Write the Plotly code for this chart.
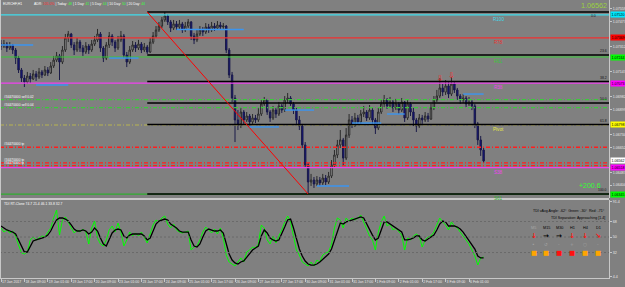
import plotly.graph_objects as go

# ---------------- data ----------------
tick_labels = ["17 Jan 2017", "18 Jan 09:00", "19 Jan 01:00", "19 Jan 17:00", "20 Jan 09:00",
               "23 Jan 01:00", "23 Jan 17:00", "24 Jan 09:00", "25 Jan 01:00", "25 Jan 17:00",
               "26 Jan 09:00", "27 Jan 01:00", "27 Jan 17:00", "30 Jan 09:00", "31 Jan 01:00",
               "31 Jan 17:00", "1 Feb 09:00", "2 Feb 01:00", "2 Feb 17:00", "3 Feb 09:00",
               "6 Feb 01:00"]
bars_per_label = 8

first_open = 1.07329
close = [1.07316,1.07329,1.07303,1.07323,1.07290,1.07237,1.07159,1.07106,1.07080,1.07119,
 1.07100,1.07133,1.07113,1.07146,1.07126,1.07159,1.07139,1.07185,1.07224,1.07251,
 1.07211,1.07290,1.07369,1.07395,1.07323,1.07290,1.07342,1.07303,1.07277,1.07316,
 1.07290,1.07329,1.07356,1.07395,1.07303,1.07237,1.07323,1.07382,1.07342,1.07303,
 1.07356,1.07382,1.07257,1.07211,1.07290,1.07323,1.07303,1.07329,1.07290,1.07310,
 1.07277,1.07342,1.07382,1.07421,1.07447,1.07487,1.07513,1.07474,1.07434,1.07461,
 1.07441,1.07461,1.07421,1.07447,1.07474,1.07382,1.07356,1.07395,1.07421,1.07408,
 1.07441,1.07421,1.07447,1.07434,1.07454,1.07441,1.07447,1.07290,1.07126,1.06975,
 1.06831,1.06805,1.06883,1.06831,1.06857,1.06818,1.06844,1.06831,1.06870,1.06936,
 1.06962,1.06883,1.06844,1.06896,1.06870,1.06923,1.06896,1.06962,1.06975,1.06936,
 1.06896,1.06831,1.06791,1.06667,1.06536,1.06424,1.06437,1.06411,1.06437,1.06418,
 1.06450,1.06424,1.06463,1.06536,1.06601,1.06667,1.06700,1.06581,1.06732,1.06831,
 1.06798,1.06844,1.06818,1.06870,1.06883,1.06844,1.06896,1.06831,1.06778,1.06883,
 1.06936,1.06962,1.06923,1.06949,1.06910,1.06936,1.06896,1.06949,1.06844,1.06936,
 1.06883,1.06831,1.06791,1.06844,1.06831,1.06857,1.06837,1.06910,1.06962,1.06988,
 1.07041,1.07014,1.07054,1.07001,1.07067,1.07028,1.06988,1.06962,1.06975,1.06936,
 1.06949,1.06923,1.06805,1.06700,1.06634,1.06562]
high = [1.07356,1.07356,1.07342,1.07342,1.07329,1.07303,1.07251,1.07172,1.07126,1.07146,
 1.07139,1.07159,1.07152,1.07172,1.07159,1.07185,1.07178,1.07211,1.07251,1.07277,
 1.07264,1.07316,1.07395,1.07415,1.07402,1.07342,1.07369,1.07356,1.07323,1.07342,
 1.07329,1.07356,1.07382,1.07428,1.07408,1.07316,1.07342,1.07408,1.07395,1.07356,
 1.07382,1.07415,1.07395,1.07277,1.07316,1.07349,1.07342,1.07356,1.07342,1.07336,
 1.07323,1.07369,1.07408,1.07447,1.07474,1.07506,1.07539,1.07526,1.07487,1.07487,
 1.07480,1.07487,1.07474,1.07474,1.07493,1.07480,1.07402,1.07421,1.07447,1.07441,
 1.07467,1.07461,1.07474,1.07467,1.07480,1.07474,1.07467,1.07454,1.07303,1.07146,
 1.06995,1.06896,1.06910,1.06896,1.06883,1.06870,1.06870,1.06864,1.06910,1.06962,
 1.06982,1.06969,1.06896,1.06923,1.06910,1.06949,1.06936,1.06988,1.07008,1.06988,
 1.06949,1.06910,1.06857,1.06805,1.06686,1.06549,1.06477,1.06457,1.06463,1.06457,
 1.06477,1.06470,1.06490,1.06568,1.06634,1.06700,1.06765,1.06713,1.06778,1.06870,
 1.06857,1.06877,1.06864,1.06896,1.06923,1.06896,1.06929,1.06910,1.06844,1.06910,
 1.06962,1.06995,1.06975,1.06982,1.06962,1.06969,1.06949,1.06975,1.06955,1.06962,
 1.06949,1.06910,1.06844,1.06870,1.06864,1.06883,1.06877,1.06936,1.06988,1.07028,
 1.07106,1.07067,1.07093,1.07080,1.07113,1.07080,1.07041,1.07001,1.07001,1.06988,
 1.06982,1.06962,1.06936,1.06818,1.06726,1.06647]
low = [1.07290,1.07303,1.07277,1.07290,1.07264,1.07198,1.07139,1.07080,1.07047,1.07067,
 1.07073,1.07093,1.07087,1.07100,1.07106,1.07119,1.07119,1.07133,1.07172,1.07211,
 1.07093,1.07198,1.07277,1.07342,1.07303,1.07257,1.07277,1.07277,1.07251,1.07264,
 1.07264,1.07277,1.07316,1.07342,1.07277,1.07211,1.07224,1.07303,1.07316,1.07277,
 1.07290,1.07342,1.07237,1.07178,1.07198,1.07277,1.07277,1.07290,1.07270,1.07277,
 1.07264,1.07270,1.07329,1.07369,1.07408,1.07434,1.07474,1.07454,1.07408,1.07421,
 1.07421,1.07428,1.07402,1.07408,1.07434,1.07356,1.07329,1.07342,1.07382,1.07382,
 1.07395,1.07402,1.07408,1.07415,1.07421,1.07421,1.07428,1.07270,1.07106,1.06949,
 1.06686,1.06765,1.06778,1.06805,1.06818,1.06791,1.06805,1.06811,1.06818,1.06857,
 1.06923,1.06864,1.06818,1.06831,1.06844,1.06857,1.06877,1.06883,1.06942,1.06923,
 1.06870,1.06805,1.06765,1.06647,1.06516,1.06345,1.06398,1.06385,1.06398,1.06398,
 1.06404,1.06404,1.06411,1.06450,1.06516,1.06581,1.06647,1.06529,1.06568,1.06713,
 1.06778,1.06785,1.06798,1.06805,1.06850,1.06824,1.06831,1.06805,1.06739,1.06765,
 1.06870,1.06916,1.06903,1.06910,1.06883,1.06896,1.06870,1.06883,1.06818,1.06831,
 1.06857,1.06791,1.06752,1.06778,1.06805,1.06818,1.06818,1.06831,1.06896,1.06949,
 1.06975,1.06988,1.06995,1.06975,1.06988,1.07008,1.06962,1.06936,1.06942,1.06916,
 1.06923,1.06896,1.06778,1.06667,1.06595,1.06549]
opens = [first_open] + close[:-1]

tdi_green = [60.5,55.8,58.2,54.7,57.0,51.2,40.8,31.5,30.3,32.6,
 46.6,50.0,46.6,48.9,51.2,50.0,54.7,60.5,72.1,81.4,
 52.3,69.8,73.3,67.5,60.5,54.7,58.2,55.8,59.3,55.8,
 41.9,60.5,68.6,48.9,41.9,39.6,46.6,58.2,62.8,55.8,
 66.3,55.8,39.6,46.6,55.8,51.2,54.7,51.2,55.8,48.9,
 43.1,53.5,64.0,69.8,67.5,72.1,74.4,65.1,60.5,65.1,
 58.2,55.8,54.7,55.8,57.0,34.9,38.4,39.6,46.6,55.8,
 61.6,58.2,54.7,59.3,53.5,60.5,48.9,29.1,21.0,18.7,
 16.4,21.0,25.7,21.0,32.6,34.9,38.4,37.3,41.9,64.0,
 60.5,46.6,41.9,51.2,43.1,51.2,58.2,67.5,74.4,67.5,
 48.9,34.9,29.1,21.0,18.7,16.4,21.0,16.4,23.3,21.0,
 29.1,31.5,32.6,41.9,60.5,72.1,69.8,60.5,72.1,68.6,
 72.1,69.8,72.1,75.6,67.5,58.2,51.2,46.6,34.9,55.8,
 67.5,74.4,62.8,65.1,58.2,60.5,55.8,52.3,34.9,48.9,
 46.6,51.2,53.5,51.2,38.4,46.6,50.0,51.2,55.8,65.1,
 72.1,67.5,64.0,58.2,67.5,62.8,60.5,55.8,51.2,46.6,
 41.9,34.9,28.0,17.5,25.7,26.8]
tdi_signal = [62.8,60.5,58.2,57.0,55.8,53.5,46.6,38.4,32.6,32.6,
 39.6,45.4,46.6,47.7,48.9,50.0,52.3,57.0,64.0,69.8,
 72.1,72.1,70.9,68.6,64.0,59.3,57.0,57.0,58.2,57.0,
 53.5,55.8,60.5,57.0,48.9,41.9,39.6,46.6,54.7,58.2,
 59.3,58.2,51.2,48.9,52.3,53.5,53.5,53.5,53.5,51.2,
 46.6,48.9,58.2,65.1,68.6,69.8,70.9,69.8,65.1,62.8,
 60.5,57.0,55.8,55.8,55.8,46.6,39.6,38.4,41.9,50.0,
 57.0,59.3,58.2,57.0,57.0,58.2,54.7,41.9,30.3,23.3,
 19.9,18.7,21.0,22.2,26.8,31.5,34.9,37.3,39.6,51.2,
 58.2,54.7,48.9,46.6,45.4,46.6,53.5,61.6,69.8,70.9,
 60.5,46.6,36.1,28.0,22.2,18.7,17.5,17.5,18.7,21.0,
 24.5,28.0,30.3,36.1,46.6,58.2,66.3,65.1,67.5,68.6,
 69.8,70.9,72.1,73.3,72.1,65.1,58.2,52.3,46.6,48.9,
 58.2,67.5,67.5,65.1,62.8,60.5,58.2,55.8,46.6,46.6,
 47.7,48.9,51.2,51.2,46.6,45.4,47.7,50.0,52.3,58.2,
 65.1,68.6,67.5,62.8,62.8,62.8,61.6,59.3,55.8,51.2,
 46.6,41.9,36.1,28.0,25.7,25.7]

fib_high = 1.07539
fib_low = 1.06345
fib_bar_start = 50
fib_bar_end = 105
fib_levels = [0.0, 23.6, 38.2, 50.0, 61.8, 100.0]

pivot_names = ["R100", "R78", "R61", "R38", "Pivot", "S38", "S61"]
pivot_prices = [1.07520, 1.07369, 1.07244, 1.07073, 1.06798, 1.06518, 1.06345]
pivot_colors = ["#3fdcec", "#f03030", "#38c838", "#f040f0", "#e8e840", "#f040f0", "#2fae2f"]
pivot_tag_colors = ["#00e8ff", "#ff0000", "#00ff00", "#ff00ff", "#ffff00", "#ff00ff", "#00ff00"]

order_prices = [1.06964, 1.06912, 1.06652, 1.06549, 1.06531]
order_labels = ["#34470000 sell 0.02", "#34470000 sell 0.04", "#34470000 tp",
                "#34470000 tp", "#34470000 tp"]
order_colors = ["#3cc83c", "#3cc83c", "#ff1e1e", "#ff1e1e", "#ff1e1e"]

sr_start = [0, 12, 37, 60, 85, 97, 108, 120, 132, 158]
sr_end = [11, 23, 47, 83, 95, 107, 119, 130, 138, 165]
sr_price = [1.07323, 1.07060, 1.07237, 1.07424, 1.06785, 1.06896, 1.06398, 1.06811, 1.06870, 1.07001]

signal_bars = [150, 154]
signal_prices = [1.07100, 1.07119]

# visible price-scale labels (those hidden behind the coloured price tags are left out)
price_ticks = [1.06404, 1.06487, 1.06652, 1.06734, 1.06899, 1.06982,
               1.07147, 1.07312, 1.07477, 1.07559]
tdi_levels = [32, 50, 68]
tdi_ticks = [4.4, 32, 50, 68, 91.4]

current_price = 1.06562
profit_text = "+200.6"

adr_items = [("Today", "48"), ("1 Day", "41"), ("5 Day", "44"), ("10 Day", "50"), ("20 Day", "44")]
adr_value = "105.0%"

tdi_title = "TDI RT-Clone 74.7 21.4 46.1 33.8 32.7"
tdi_info = ["TDI vAvg Angle: -62°  Green: -30°  Red: -71°", "TDI Separation: Approaching [1.4]"]
tf_names = ["M5", "M15", "M30", "H1", "H4", "D1"]
tf_arrows = ["↓", "→", "→", "↓", "↓", "↘"]
tf_arrow_colors = ["#ff1010", "#000000", "#000000", "#ff1010", "#ff1010", "#ff1010"]
tf_marks = ["•", "↺", "-", "+", "○", "-"]
tf_square_colors = ["#ffa500", "#ffa500", "#ff1010", "#ff1010", "#ffa500", "#ffa500"]

# ---------------- layout geometry ----------------
W, H = 625, 287
ML, MR, MT, MB = 0, 16, 0, 9
PW, PH = W - ML - MR, H - MT - MB
BAR_PX = 2.925
xmin = -1 / BAR_PX
xmax = (PW - 1) / BAR_PX
FONT = "Liberation Sans, Arial, sans-serif"
BG = "#808080"
AXC = "#c8c8c8"


def px(x):
    return x / PW


def py(y):
    return 1 - y / PH


bars = list(range(len(close)))

fig = go.Figure()
fig.add_trace(go.Candlestick(
    x=bars, open=opens, high=high, low=low, close=close,
    increasing=dict(line=dict(color="#2a2a2a", width=1), fillcolor="#b4b4b4"),
    decreasing=dict(line=dict(color="#1a1a48", width=1), fillcolor="#10108c"),
    whiskerwidth=0, hoverinfo="skip", xaxis="x", yaxis="y"))

fig.add_trace(go.Scatter(x=bars, y=tdi_green, mode="lines", line=dict(color="#00ff00", width=1),
                         hoverinfo="skip", xaxis="x", yaxis="y2"))
fig.add_trace(go.Scatter(x=bars, y=tdi_signal, mode="lines", line=dict(color="#000000", width=1.3),
                         hoverinfo="skip", xaxis="x", yaxis="y2"))

# red signal arrows
fig.add_trace(go.Scatter(x=signal_bars, y=signal_prices, mode="text", text=["⇩"] * len(signal_bars),
                         textfont=dict(size=8, color="#ff2020", family="DejaVu Sans"),
                         hoverinfo="skip", xaxis="x", yaxis="y"))

shapes = []
ann = []


def text(x, y, s, size, color, xanchor="left", yanchor="middle", xref="paper", yref="paper",
         family=FONT, **kw):
    d = dict(x=x, y=y, xref=xref, yref=yref, text=s, showarrow=False, xanchor=xanchor,
             yanchor=yanchor, font=dict(size=size, color=color, family=family), borderpad=0)
    d.update(kw)
    ann.append(d)


# pivot lines
for name, p, c in zip(pivot_names, pivot_prices, pivot_colors):
    dash = "4px,2px,1px,2px" if name == "Pivot" else "solid"
    col = "#b8b450" if name == "Pivot" else c
    shapes.append(dict(type="line", xref="paper", x0=0, x1=1, yref="y", y0=p, y1=p,
                       line=dict(color=col, width=1.2, dash=dash)))
    text(170, p, name, 4.6, c, xanchor="center", yanchor="top", xref="x", yref="y", yshift=-1)

# order lines
for p, lab, c in zip(order_prices, order_labels, order_colors):
    shapes.append(dict(type="line", xref="paper", x0=0, x1=1, yref="y", y0=p, y1=p,
                       line=dict(color=c, width=1.3, dash="4px,2px,1px,2px")))
    text(px(3), p, lab, 3.3, "#ffffff", yanchor="bottom", yref="y", yshift=0)

# fibonacci
for lv in fib_levels:
    p = fib_high - (fib_high - fib_low) * lv / 100.0
    shapes.append(dict(type="line", xref="x", x0=fib_bar_start, x1=xmax, yref="y", y0=p, y1=p,
                       line=dict(color="#000000", width=1.5)))
    if lv == 0.0:
        text(px(597), p, f"{lv:.1f}", 3.4, "#111111", xanchor="right", yanchor="top", yref="y", yshift=-1)
    else:
        text(px(608), p, f"{lv:.1f}", 3.4, "#111111", xanchor="right", yanchor="bottom", yref="y", yshift=1)
shapes.append(dict(type="line", xref="x", x0=fib_bar_start, x1=fib_bar_end, yref="y",
                   y0=fib_high, y1=fib_low, line=dict(color="#ff0000", width=1)))

# blue support/resistance segments
for a, b, p in zip(sr_start, sr_end, sr_price):
    shapes.append(dict(type="line", xref="x", x0=a, x1=b, yref="y", y0=p, y1=p,
                       line=dict(color="#3b95f0", width=1.4)))

# TDI levels
for lv in tdi_levels:
    shapes.append(dict(type="line", xref="paper", x0=0, x1=1, yref="y2", y0=lv, y1=lv,
                       line=dict(color="#6a6a6a", width=1, dash="2px,2px")))

# frame lines
shapes.append(dict(type="line", xref="paper", yref="paper", x0=0, x1=1, y0=py(199), y1=py(199),
                   line=dict(color=AXC, width=2)))
shapes.append(dict(type="line", xref="paper", yref="paper", x0=px(0.5), x1=px(0.5), y0=0, y1=1,
                   line=dict(color=AXC, width=1)))

# price tags on the right axis
for p, bg in zip(pivot_prices, pivot_tag_colors):
    text(1, p, f"{p:.5f}", 3.6, "#000000", xanchor="left", yref="y", xshift=1, bgcolor=bg, borderpad=0.6)
text(1, current_price, f"{current_price:.5f}", 3.6, "#000000", xanchor="left", yref="y", xshift=1,
     bgcolor="#ffffff", borderpad=0.6)

# header texts
text(px(2), py(4), "EURCHF,H1", 3.4, "#ffffff")
g = "#39ff39"
adr = f"ADR: <span style='color:#ff3232'>{adr_value}</span>"
for lab, val in adr_items:
    adr += f" | {lab}: <span style='color:{g}'>{val}</span>"
text(px(33), py(4), adr, 3.4, "#ffffff")
text(px(608), py(5.5), f"{current_price:.5f}", 7.2, "#9ad23e", xanchor="right")
text(px(602), py(186), profit_text, 7.0, "#33ff33", xanchor="right")

# TDI texts
text(px(3), py(204), tdi_title, 3.4, "#ffffff")
text(px(606), py(211), tdi_info[0], 3.6, "#000000", xanchor="right")
text(px(606), py(218), tdi_info[1], 3.6, "#000000", xanchor="right")
for i, name in enumerate(tf_names):
    cx = px(533.5 + 12.9 * i)
    text(cx, py(228), name, 3.8, "#a8a8a8" if i == 0 else "#000000", xanchor="center")
    text(cx, py(236), f"<b>{tf_arrows[i]}</b>", 7, tf_arrow_colors[i], xanchor="center",
         family="DejaVu Sans")
    text(cx, py(244.5), tf_marks[i], 4.5, "#a4a4a4", xanchor="center", family="DejaVu Sans")
    text(cx, py(253), "■", 6.5, tf_square_colors[i], xanchor="center", family="DejaVu Sans")

fig.update_layout(
    width=W, height=H, margin=dict(l=ML, r=MR, t=MT, b=MB),
    paper_bgcolor=BG, plot_bgcolor=BG, showlegend=False, hovermode=False,
    shapes=shapes, annotations=ann,
    xaxis=dict(domain=[0, 1], range=[xmin, xmax], anchor="y2",
               tickvals=[i * bars_per_label for i in range(len(tick_labels))], ticktext=tick_labels,
               ticks="outside", ticklen=3, tickcolor=AXC, ticklabelposition="outside right",
               tickangle=0, tickfont=dict(size=3.5, color="#e8e8e8", family=FONT),
               showline=True, linecolor=AXC, linewidth=1, showgrid=False, zeroline=False,
               rangeslider=dict(visible=False), fixedrange=True),
    yaxis=dict(domain=[1 - 198 / PH, 1], range=[1.06319, 1.07618], side="right", anchor="x",
               tickvals=price_ticks, ticktext=[f"{v:.5f}" for v in price_ticks],
               ticks="outside", ticklen=2, tickcolor=AXC,
               tickfont=dict(size=3.6, color="#e8e8e8", family=FONT),
               showline=True, linecolor=AXC, linewidth=1, showgrid=False, zeroline=False),
    yaxis2=dict(domain=[0, 78 / PH], range=[2.44, 93.0], side="right", anchor="x",
                tickvals=tdi_ticks, ticktext=[f"{v:g}" for v in tdi_ticks],
                ticks="outside", ticklen=2, tickcolor=AXC,
                tickfont=dict(size=3.6, color="#e8e8e8", family=FONT),
                showline=True, linecolor=AXC, linewidth=1, showgrid=False, zeroline=False),
)

fig.write_html("out.html")
